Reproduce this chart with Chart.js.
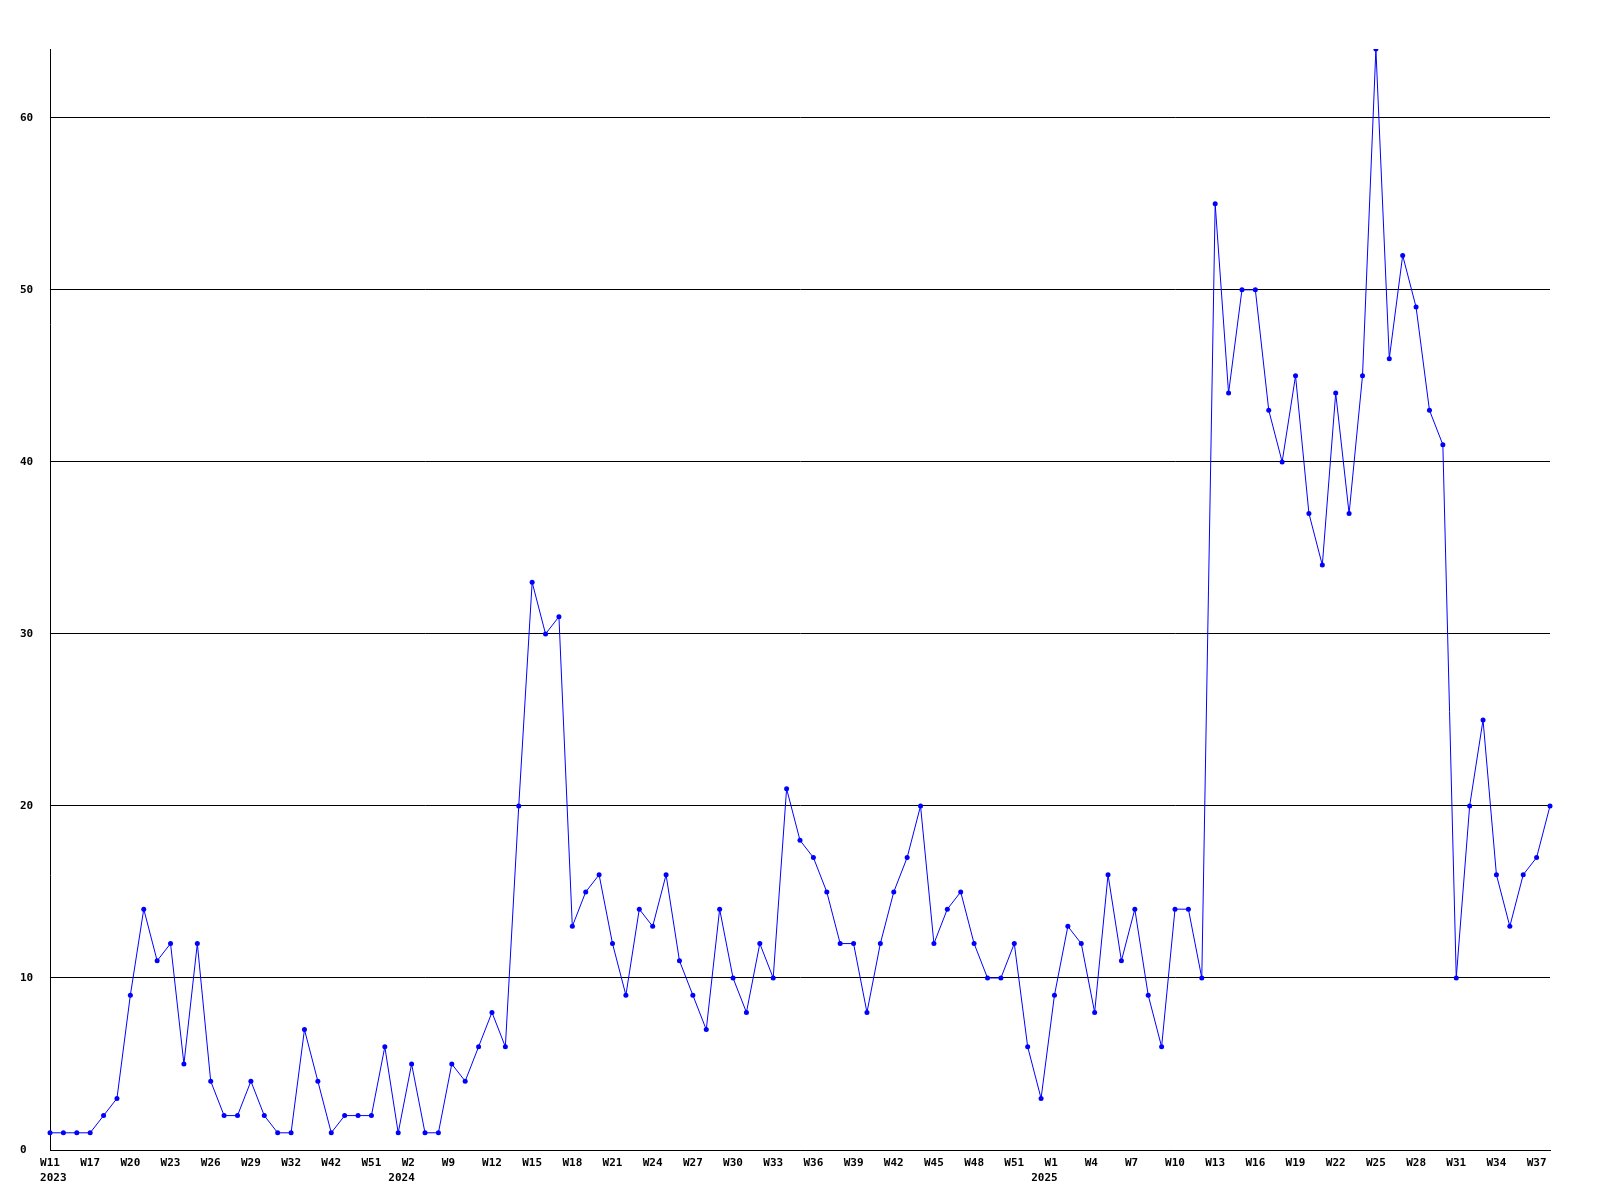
<!DOCTYPE html>
<html>
<head>
<meta charset="utf-8">
<script src="https://cdn.jsdelivr.net/npm/chart.js@4.4.1/dist/chart.umd.min.js"></script>
<style>
    html, body { margin: 0; padding: 0; background: #ffffff; }
    #chart { display: block; }
</style>
</head>
<body>
<canvas id="chart" width="1600" height="1200"></canvas>
<script>
// week numbers per year (only every third one is labelled on the axis)
const weeks2023 = [11, 13, 15, 17, 18, 19, 20, 21, 22, 23, 24, 25, 26, 27, 28, 29, 30, 31, 32,
    36, 39, 42, 45, 48, 51, 52];
const weeks2024 = [1, 2, 5, 7, 9, 10, 11, 12, 13, 14, 15, 16, 17, 18, 19, 20, 21, 22, 23, 24,
    25, 26, 27, 28, 29, 30, 31, 32, 33, 34, 35, 36, 37, 38, 39, 40, 41, 42, 43, 44, 45, 46,
    47, 48, 49, 50, 51, 52];
const weeks2025 = [0, 1, 2, 3, 4, 5, 6, 7, 8, 9, 10, 11, 12, 13, 14, 15, 16, 17, 18, 19, 20,
    21, 22, 23, 24, 25, 26, 27, 28, 29, 30, 31, 32, 33, 34, 35, 36, 37, 38];

const counts = [
    1, 1, 1, 1, 2, 3, 9, 14, 11, 12, 5, 12, 4, 2, 2, 4, 2, 1, 1, 7, 4, 1, 2, 2, 2, 6,
    1, 5, 1, 1, 5, 4, 6, 8, 6, 20, 33, 30, 31, 13, 15, 16, 12, 9, 14, 13, 16, 11, 9, 7,
    14, 10, 8, 12, 10, 21, 18, 17, 15, 12, 12, 8, 12, 15, 17, 20, 12, 14, 15, 12, 10, 10,
    12, 6,
    3, 9, 13, 12, 8, 16, 11, 14, 9, 6, 14, 14, 10, 55, 44, 50, 50, 43, 40, 45, 37, 34,
    44, 37, 45, 64, 46, 52, 49, 43, 41, 10, 20, 25, 16, 13, 16, 17, 20,
];

const yTicks = [0, 10, 20, 30, 40, 50, 60];
const yMax = 64;
const labelEvery = 3;

const categories = [
    ...weeks2023.map((w) => ({ week: `W${w}`, year: "2023" })),
    ...weeks2024.map((w) => ({ week: `W${w}`, year: "2024" })),
    ...weeks2025.map((w) => ({ week: `W${w}`, year: "2025" })),
];

const FONT_FAMILY = "'DejaVu Sans Mono', monospace";
const AXIS_FONT = { family: FONT_FAMILY, size: 11, weight: "bold", lineHeight: 15 / 11 };

function tickLabel(index) {
    if (index % labelEvery !== 0) {
        return null;
    }
    // labels sit in a three character slot, so short ones hang left
    return categories[index].week.padEnd(3, " ");
}

// years are written under the first week of each year, left aligned like the week slots
const yearLabels = {
    id: "yearLabels",
    afterDraw(chart) {
        const { ctx, scales: { x } } = chart;
        ctx.save();
        ctx.font = `bold 11px ${FONT_FAMILY}`;
        ctx.fillStyle = "#000000";
        ctx.textAlign = "left";
        ctx.textBaseline = "middle";
        const slot = ctx.measureText("W00").width;
        categories.forEach((cat, index) => {
            if (index > 0 && categories[index - 1].year === cat.year) {
                return;
            }
            ctx.fillText(cat.year, x.getPixelForValue(index) - slot / 2, x.top + 28);
        });
        ctx.restore();
    },
};

new Chart(document.getElementById("chart"), {
    type: "line",
    data: {
        labels: categories.map((c) => `${c.year}-${c.week}`),
        datasets: [
            {
                data: counts,
                borderColor: "#0000ff",
                backgroundColor: "#0000ff",
                borderWidth: 1,
                tension: 0,
                pointStyle: "circle",
                pointRadius: 2.5,
                pointBorderWidth: 0,
                pointBackgroundColor: "#0000ff",
            },
        ],
    },
    options: {
        responsive: false,
        animation: false,
        layout: { padding: { left: 20, right: 50, top: 49, bottom: 0 } },
        plugins: {
            legend: { display: false },
            tooltip: { enabled: false },
        },
        scales: {
            x: {
                type: "category",
                offset: false,
                grid: { display: false, drawTicks: false },
                border: { display: true, color: "#000000", width: 1 },
                ticks: {
                    autoSkip: false,
                    maxRotation: 0,
                    minRotation: 0,
                    padding: 6,
                    color: "#000000",
                    font: AXIS_FONT,
                    callback: (value, index) => tickLabel(index),
                },
                afterFit: (scale) => { scale.height = 50; },
            },
            y: {
                min: 0,
                max: yMax,
                grid: { color: "#000000", lineWidth: 1, drawTicks: false },
                border: { display: true, color: "#000000", width: 1 },
                ticks: {
                    stepSize: 10,
                    includeBounds: false,
                    crossAlign: "far",
                    padding: 0,
                    color: "#000000",
                    font: AXIS_FONT,
                },
                afterBuildTicks: (scale) => {
                    scale.ticks = yTicks.map((value) => ({ value }));
                },
                afterFit: (scale) => { scale.width = 30; },
            },
        },
    },
    plugins: [yearLabels],
});
</script>
</body>
</html>
